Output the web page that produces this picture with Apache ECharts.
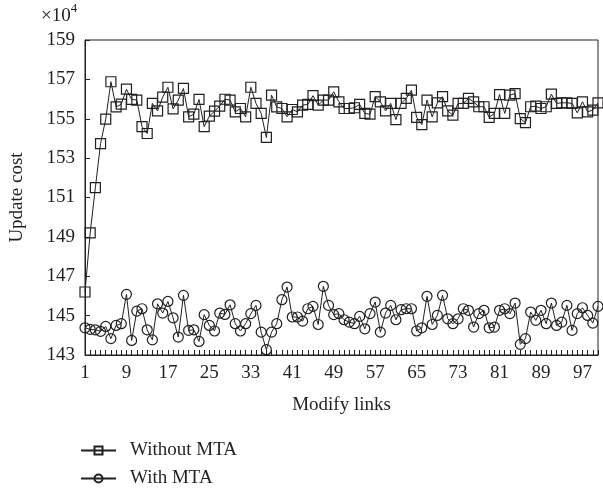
<!DOCTYPE html>
<html>
<head>
<meta charset="utf-8">
<script src="https://cdn.jsdelivr.net/npm/echarts@6/dist/echarts.min.js"></script>
<style>
  html, body { margin: 0; padding: 0; background: #fff; }
  #chart { width: 603px; height: 490px; }
</style>
</head>
<body>
<div id="chart"></div>
<script>
// Update cost (in units of 10^4) for each modified link, with and without MTA
const links = Array.from({ length: 100 }, (_, k) => String(k + 1));

const withoutMTA = [
  146.2, 149.2, 151.5, 153.74, 154.98, 156.88, 155.6, 155.74, 156.5, 155.98,
  155.95, 154.6, 154.25, 155.78, 155.4, 156.1, 156.6, 155.5, 155.95, 156.54,
  155.1, 155.23, 155.98, 154.6, 155.13, 155.39, 155.64, 155.99, 155.95, 155.35,
  155.52, 155.1, 156.6, 155.78, 155.27, 154.05, 156.2, 155.6, 155.52, 155.1,
  155.47, 155.35, 155.69, 155.73, 156.17, 155.69, 155.95, 155.95, 156.37, 155.86,
  155.52, 155.52, 155.56, 155.73, 155.27, 155.23, 156.12, 155.86, 155.4, 155.78,
  154.96, 155.78, 156.03, 156.45, 155.07, 154.7, 155.95, 155.1, 155.81, 156.12,
  155.4, 155.18, 155.78, 155.78, 156.03, 155.86, 155.61, 155.61, 155.07, 155.27,
  156.23, 155.27, 156.2, 156.28, 155.01, 154.8, 155.61, 155.64, 155.52, 155.61,
  156.25, 155.78, 155.81, 155.81, 155.78, 155.3, 155.86, 155.35, 155.44, 155.81
];

const withMTA = [
  144.38, 144.3, 144.28, 144.2, 144.45, 143.83, 144.5, 144.59, 146.08, 143.74,
  145.23, 145.35, 144.28, 143.77, 145.6, 145.13, 145.72, 144.89, 143.91, 146.03,
  144.25, 144.28, 143.69, 145.05, 144.5, 144.22, 145.13, 145.06, 145.55, 144.59,
  144.22, 144.59, 145.1, 145.52, 144.16, 143.27, 144.16, 144.59, 145.81, 146.45,
  144.93, 144.93, 144.72, 145.35, 145.47, 144.55, 146.49, 145.52, 145.05, 145.1,
  144.79, 144.67, 144.59, 144.96, 144.33, 145.1, 145.69, 144.16, 145.13, 145.52,
  144.79, 145.3, 145.35, 145.35, 144.22, 144.38, 145.98, 144.55, 145.01, 146.03,
  144.84, 144.59, 144.84, 145.35, 145.27, 144.42, 145.1, 145.27, 144.38, 144.42,
  145.27, 145.35, 145.1, 145.64, 143.54, 143.83, 145.18, 144.76, 145.27, 144.59,
  145.64, 144.5, 144.67, 145.52, 144.25, 145.1, 145.4, 145.01, 144.62, 145.47
];

const seriesNames = ['Without MTA', 'With MTA'];

const yMin = 143, yMax = 159, yStep = 2;

const ink = '#231f20';
const font = 'Liberation Serif';

const chart = echarts.init(document.getElementById('chart'), null, { renderer: 'canvas' });

function lineSeries(name, data, symbol) {
  return {
    name: name,
    type: 'line',
    data: data,
    symbol: symbol,
    symbolSize: 10,
    showAllSymbol: true,
    animation: false,
    lineStyle: { color: ink, width: 1 },
    itemStyle: { color: 'rgba(0,0,0,0)', borderColor: ink, borderWidth: 1.2 },
    emphasis: { disabled: true }
  };
}

// one legend block per series, stacked under the plot
function legendRow(name, top) {
  return {
    data: [name],
    left: 80, top: top,
    padding: 0,
    itemWidth: 35, itemHeight: 10,
    textStyle: { fontFamily: font, fontSize: 19, color: ink, padding: [0, 0, 0, 9] }
  };
}

chart.setOption({
  backgroundColor: '#fff',
  animation: false,
  textStyle: { fontFamily: font, color: ink },
  grid: {
    left: 80, right: 5, top: 40, bottom: 135,
    show: true, borderColor: ink, borderWidth: 1, backgroundColor: 'transparent'
  },
  graphic: [{
    type: 'text',
    left: 41, top: 2,
    style: {
      text: '{a|×10}{b|4}',
      rich: {
        a: { fontFamily: font, fontSize: 19, fill: ink, verticalAlign: 'bottom', lineHeight: 24 },
        b: { fontFamily: font, fontSize: 13, fill: ink, verticalAlign: 'top', lineHeight: 24, padding: [0, 0, 10, 0] }
      }
    }
  }],
  legend: [legendRow(seriesNames[0], 441), legendRow(seriesNames[1], 469)],
  xAxis: {
    type: 'category',
    data: links,
    boundaryGap: false,
    name: 'Modify links',
    nameLocation: 'middle',
    nameGap: 41,
    nameTextStyle: { fontFamily: font, fontSize: 19, color: ink },
    axisLine: { lineStyle: { color: ink, width: 1 } },
    axisTick: { show: true, inside: true, length: 5, interval: 0, lineStyle: { color: ink, width: 1 } },
    axisLabel: { interval: 7, fontFamily: font, fontSize: 19, color: ink, margin: 9 },
    splitLine: { show: false }
  },
  yAxis: {
    type: 'value',
    min: yMin, max: yMax, interval: yStep,
    name: 'Update cost',
    nameLocation: 'middle',
    nameGap: 58,
    nameRotate: 90,
    nameTextStyle: { fontFamily: font, fontSize: 19, color: ink },
    axisLine: { show: true, lineStyle: { color: ink, width: 1 } },
    axisTick: { show: true, inside: true, length: 5, lineStyle: { color: ink, width: 1 } },
    axisLabel: { fontFamily: font, fontSize: 19, color: ink, margin: 10 },
    splitLine: { show: false }
  },
  series: [
    lineSeries(seriesNames[0], withoutMTA, 'rect'),
    lineSeries(seriesNames[1], withMTA, 'circle')
  ]
});
</script>
</body>
</html>
